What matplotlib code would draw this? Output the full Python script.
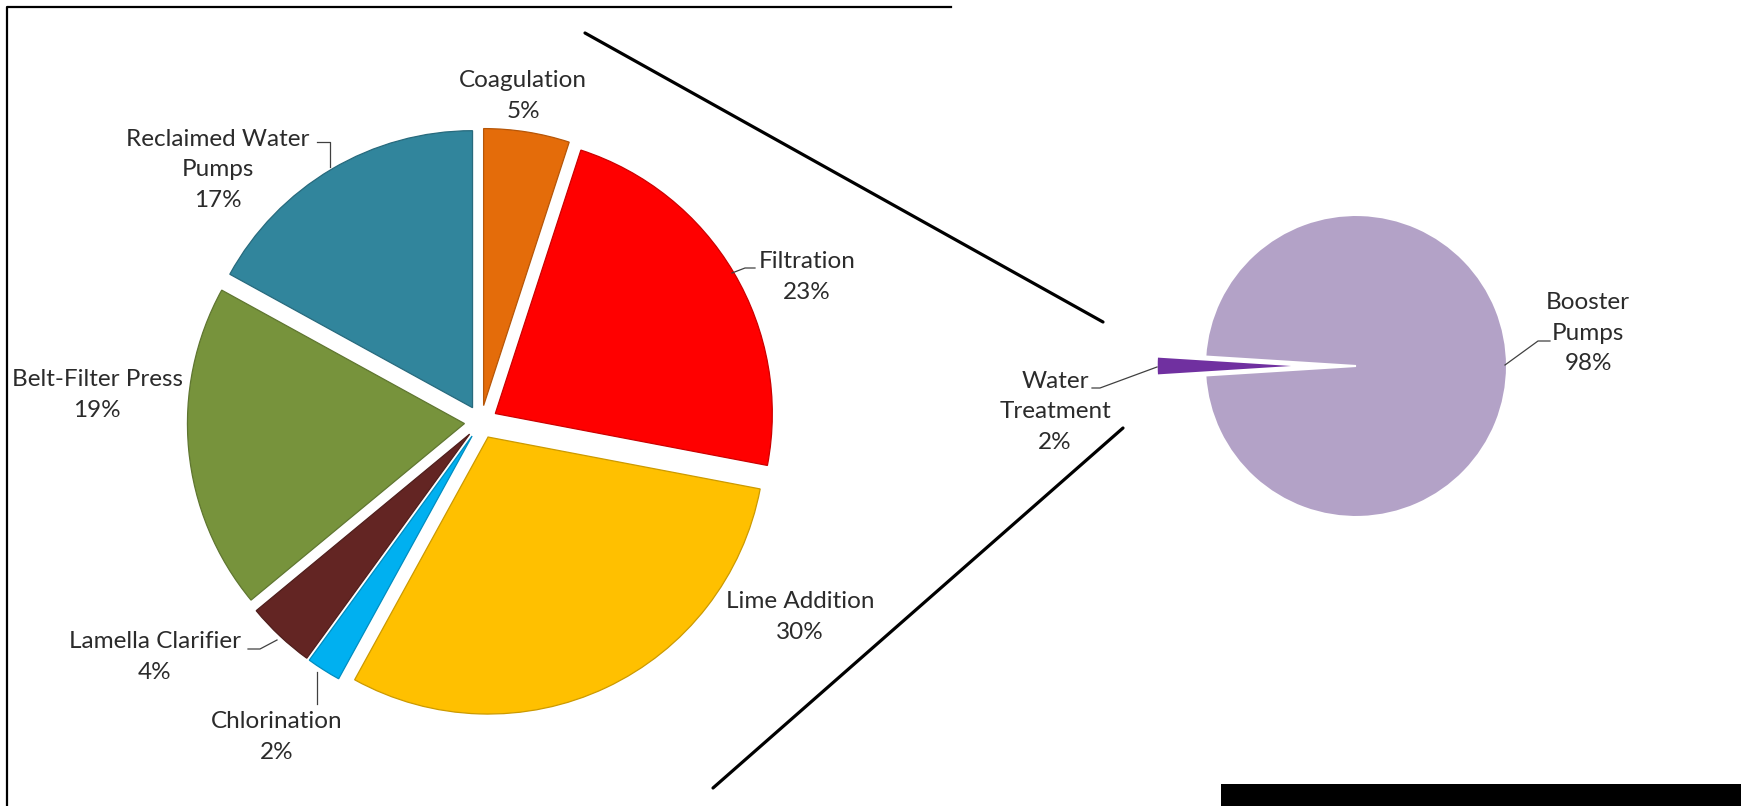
import matplotlib
matplotlib.use("Agg")
import matplotlib.pyplot as plt
from matplotlib.colors import to_rgb
from matplotlib.patches import Rectangle

W, H = 1741, 806

# energy use inside the water treatment plant
treat_labels = ["Coagulation", "Filtration", "Lime Addition", "Chlorination",
                "Lamella Clarifier", "Belt-Filter Press", "Reclaimed Water\nPumps"]
treat_share = [5, 23, 30, 2, 4, 19, 17]
treat_colors = ["#E46C0A", "#FF0000", "#FFC000", "#00B0F0",
                "#632523", "#77933C", "#31859C"]

# whole system: treatment vs. booster pumps
total_labels = ["Water\nTreatment", "Booster\nPumps"]
total_share = [2, 98]
total_colors = ["#7030A0", "#B3A2C7"]

plt.rcParams["font.family"] = ["Lato", "DejaVu Sans"]
TXT = "#2b2b2b"


def py(y):
    # layout numbers below are measured from the top-left corner
    return H - y


fig = plt.figure(figsize=(W / 100, H / 100), dpi=100)
ax = fig.add_axes([0, 0, 1, 1])

# pie explode is in data units here (axes are in pixels)
r1, r2 = 277, 151
wedges1, _ = ax.pie(treat_share, colors=treat_colors, startangle=90, counterclock=False,
                    explode=[0.06 * r1] * len(treat_share), center=(481, py(422)), radius=r1,
                    wedgeprops=dict(linewidth=0.9))
for w in wedges1:
    w.set_edgecolor([c * 0.8 for c in to_rgb(w.get_facecolor())])

wedges2, _ = ax.pie(total_share, colors=total_colors, startangle=180 + 3.6 * total_share[0] / 2,
                    counterclock=False, explode=[0.32 * r2, 0], center=(1356, py(366)), radius=r2,
                    wedgeprops=dict(linewidth=1.5, edgecolor="white"))

ax.set_xlim(0, W)
ax.set_ylim(0, H)
ax.set_aspect("equal")
ax.axis("off")

# data labels: (centre x, centre y) for each slice label
pos1 = [(523, 96), (807, 277), (800, 617), (277, 737), (155, 657), (97, 395), (218, 170)]
pos2 = [(1055, 412), (1588, 333)]
for lab, val, (x, y) in zip(treat_labels + total_labels, treat_share + total_share, pos1 + pos2):
    ax.text(x, py(y), f"{lab}\n{val}%", ha="center", va="center", fontsize=17.5,
            color=TXT, linespacing=1.55)

# leader lines
leaders = [
    [(732, 273), (745, 268), (755, 268)],
    [(317, 142), (330, 142), (330, 167)],
    [(248, 649), (260, 649), (277, 640)],
    [(317, 672), (317, 704)],
    [(1505, 365), (1538, 341), (1550, 341)],
    [(1092, 388), (1100, 388), (1157, 367)],
]
for pts in leaders:
    ax.plot([p[0] for p in pts], [py(p[1]) for p in pts], color="#404040", lw=0.9)

# connector lines between the two pies
ax.plot([585, 1103], [py(33), py(322)], color="black", lw=2.3, solid_capstyle="round")
ax.plot([713, 1123], [py(788), py(428)], color="black", lw=2.3, solid_capstyle="round")

# chart frame (partially visible) and black bar at the bottom right
ax.plot([7, 7, 951], [0, py(7), py(7)], color="black", lw=1.6)
ax.add_patch(Rectangle((1221, 0), W - 1221, py(784), color="black", lw=0))

fig.savefig("out.png", dpi=100, facecolor="white")
